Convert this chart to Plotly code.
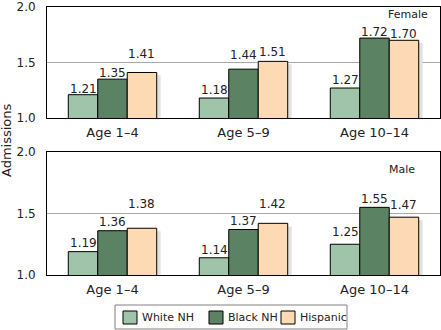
import plotly.graph_objects as go

# ---- data ----
age_groups = ["Age 1–4", "Age 5–9", "Age 10–14"]
series_names = ["White NH", "Black NH", "Hispanic"]

female_white = [1.21, 1.18, 1.27]
female_black = [1.35, 1.44, 1.72]
female_hispanic = [1.41, 1.51, 1.70]

male_white = [1.19, 1.14, 1.25]
male_black = [1.36, 1.37, 1.55]
male_hispanic = [1.38, 1.42, 1.47]

y_ticks = [1.0, 1.5, 2.0]

# ---- style ----
colors = ["#9fc4a9", "#5b8262", "#fdd9b4"]
shadow_color = "#e2e2e2"
font = "DejaVu Sans, Verdana, sans-serif"
text_color = "#222222"

BAR_W = 0.225
OFFSETS = [-0.3375, -0.1125, 0.1125]
SHADOW_DX = 0.03      # ~4 px to the right
SHADOW_DY = 0.025     # ~3 px down

# pixel lift of each value label above its bar (per series, per age group)
female_lift = [[6, 8, 8], [6, 14, 6], [18, 9, 6]]
male_lift = [[9, 8, 12], [9, 8, 8], [24, 19, 12]]

# plot area in pixels: left 47, right 440, bottom 275, top 7
W, H = 441, 330
L, R, T, B = 47, 1, 7, 55
PW, PH = W - L - R, H - T - B


def px_x(p):
    return (p - L) / PW


def px_y(p):
    return (H - B - p) / PH


fig = go.Figure()
annotations = []

panels = [
    ("x", "y", [female_white, female_black, female_hispanic], female_lift, "Female", 386, 1.93),
    ("x2", "y2", [male_white, male_black, male_hispanic], male_lift, "Male", 387, 1.859),
]

for xa, ya, values, lift, title, title_px, title_y in panels:
    # drop shadow behind each group
    fig.add_trace(go.Bar(
        x=age_groups,
        y=[v - SHADOW_DY for v in values[2]],
        width=BAR_W,
        offset=OFFSETS[2] + SHADOW_DX,
        marker=dict(color=shadow_color, line=dict(width=0)),
        xaxis=xa, yaxis=ya,
        showlegend=False,
        hoverinfo="skip",
    ))
    for s, name in enumerate(series_names):
        fig.add_trace(go.Bar(
            x=age_groups,
            y=values[s],
            name=name,
            width=BAR_W,
            offset=OFFSETS[s],
            marker=dict(color=colors[s], line=dict(color="black", width=1)),
            xaxis=xa, yaxis=ya,
            showlegend=False,
        ))
        for g, v in enumerate(values[s]):
            annotations.append(dict(
                x=g + OFFSETS[s] + BAR_W / 2, y=v,
                xref=xa, yref=ya,
                text=f"{v:.2f}",
                showarrow=False,
                yanchor="middle",
                yshift=lift[s][g],
                font=dict(size=12, color=text_color),
            ))
    annotations.append(dict(
        x=px_x(title_px), y=title_y,
        xref="paper", yref=ya,
        text=title, showarrow=False,
        xanchor="left", yanchor="middle",
        font=dict(size=11, color=text_color),
    ))

# y axis title
annotations.append(dict(
    x=px_x(6), y=px_y(140), xref="paper", yref="paper",
    text="Admissions", textangle=-90, showarrow=False,
    xanchor="center", yanchor="middle",
    font=dict(size=13, color=text_color),
))

# legend drawn by hand, to keep swatch and text tight like the original
shapes = [dict(
    type="rect", xref="paper", yref="paper",
    x0=px_x(115), x1=px_x(347), y0=px_y(329), y1=px_y(305),
    line=dict(color="#808080", width=1), fillcolor="white",
)]
swatch_left = [123, 209, 281]
text_left = [140, 226, 298]
for s, name in enumerate(series_names):
    shapes.append(dict(
        type="rect", xref="paper", yref="paper",
        x0=px_x(swatch_left[s]), x1=px_x(swatch_left[s] + 14),
        y0=px_y(324), y1=px_y(311),
        line=dict(color="black", width=1), fillcolor=colors[s],
    ))
    annotations.append(dict(
        x=px_x(text_left[s]), y=px_y(317.5), xref="paper", yref="paper",
        text=name, showarrow=False, xanchor="left", yanchor="middle",
        font=dict(size=11, color=text_color),
    ))

top_domain = [px_y(118), 1.0]
bottom_domain = [0.0, px_y(152)]

yaxis_style = dict(
    range=[1.0, 2.0],
    tickvals=y_ticks,
    tickformat=".1f",
    showgrid=True, gridcolor="#a8a8a8", gridwidth=1,
    zeroline=False,
    showline=True, mirror=True, linecolor="black", linewidth=1,
    ticks="", ticklabelstandoff=8,
    ticklabeloverflow="allow",
    tickfont=dict(size=12, color=text_color),
    automargin=False,
    fixedrange=True,
)
xaxis_style = dict(
    showgrid=False, zeroline=False,
    showline=True, mirror=True, linecolor="black", linewidth=1,
    ticks="", ticklabelstandoff=2,
    tickfont=dict(size=13, color=text_color),
    range=[-0.5, 2.5],
    automargin=False,
    fixedrange=True,
)

fig.update_layout(
    width=W, height=H,
    margin=dict(l=L, r=R, t=T, b=B, pad=0),
    paper_bgcolor="white", plot_bgcolor="white",
    font=dict(family=font, color=text_color),
    barmode="overlay",
    showlegend=False,
    xaxis=dict(xaxis_style, anchor="y"),
    yaxis=dict(yaxis_style, domain=top_domain, anchor="x"),
    xaxis2=dict(xaxis_style, anchor="y2"),
    yaxis2=dict(yaxis_style, domain=bottom_domain, anchor="x2"),
    annotations=annotations,
    shapes=shapes,
)

# the page body has a default 8px margin; drop it so the figure sits at 0,0
fig.write_html(
    "out.html",
    config=dict(displayModeBar=False),
    post_script="document.body.style.margin='0';",
)
